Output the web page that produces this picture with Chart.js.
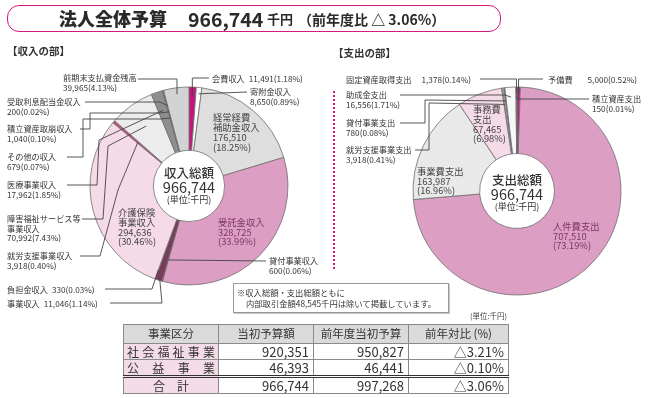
<!DOCTYPE html>
<html><head><meta charset="utf-8">
<script src="https://cdn.jsdelivr.net/npm/chart.js@4"></script>
<style>
body{margin:0;width:650px;height:398px;overflow:hidden;background:#fff;font-family:"Noto Sans CJK JP","Noto Sans",sans-serif;color:#333;position:relative}
canvas{position:absolute;left:0;top:0}
.t{position:absolute;white-space:nowrap;font-size:8.2px;color:#333;z-index:2}
.t.in{font-size:9.3px;color:#444}
.t.pu{color:#7d3467}
.abs{position:absolute;white-space:nowrap;z-index:2}
#titlebox{position:absolute;left:7px;top:5px;width:492px;height:25px;border:1.6px solid #d4197f;border-radius:12px}
.ctr{position:absolute;z-index:2;text-align:center;white-space:nowrap;color:#333;transform:translateX(-50%)}
#note{position:absolute;left:233px;top:283px;width:214px;height:28px;border:1px solid #999;box-shadow:1px 1px 0 #c8c8c8;font-size:8.3px;line-height:11px;color:#333;z-index:2}
table{position:absolute;left:123px;top:324px;border-collapse:collapse;color:#333;z-index:2;table-layout:fixed}
td,th{border:1px solid #8a8a8a;padding:0 4px;white-space:nowrap;line-height:1}
th{background:#dadada;font-weight:normal;font-size:11.5px;height:18px}
td{font-size:13px;text-align:right}
td.c1{background:#f3dbe7;font-size:12px;text-align:justify;text-align-last:justify;padding:0 3px}
td.c1.tot{text-align:center;text-align-last:center}
tr.tot td{border-top:3px double #333}
</style></head>
<body>
<div id="titlebox"></div>
<canvas id="inc" width="650" height="398"></canvas>
<canvas id="exp" width="650" height="398"></canvas>
<div class="abs" style="left:7px;top:43px;font-size:10.5px;font-weight:bold;line-height:16px">【収入の部】</div>
<div class="abs" style="left:333px;top:45px;font-size:10.5px;font-weight:bold;line-height:16px">【支出の部】</div>
<div style="position:absolute;left:333px;top:91px;height:178px;border-left:2px dotted #d4197f"></div>
<div id="note"><div style="position:absolute;left:3px;top:3px">※収入総額・支出総額ともに</div><div id="note2" style="position:absolute;left:12px;top:14px"></div></div>
<div class="abs" style="left:470px;top:311px;font-size:7.5px;line-height:10px;color:#444">(単位:千円)</div>
<table id="tbl"></table>
<script>
// ---- data ----
const incomeLabels = ['会費収入','寄附金収入','経常経費補助金収入','受託金収入','貸付事業収入','事業収入','負担金収入','介護保険事業収入','就労支援事業収入','障害福祉サービス等事業収入','医療事業収入','その他の収入','積立資産取崩収入','受取利息配当金収入','前期末支払資金残高'];
const incomeValues = [11491,8650,176510,328725,600,11046,330,294636,3918,70992,17962,679,1040,200,39965];
const incomePct = ['1.18%','0.89%','18.25%','33.99%','0.06%','1.14%','0.03%','30.46%','0.40%','7.43%','1.85%','0.07%','0.10%','0.02%','4.13%'];
const expenseLabels = ['予備費','人件費支出','事業費支出','事務費支出','就労支援事業支出','貸付事業支出','助成金支出','固定資産取得支出','積立資産支出'];
const expenseValues = [5000,707510,163987,67465,3918,780,16556,1378,150];
const expensePct = ['0.52%','73.19%','16.96%','6.98%','0.41%','0.08%','1.71%','0.14%','0.01%'];
const totalBudget = 966744;
const internalTx = 48545;
const tableHeaders = ['事業区分','当初予算額','前年度当初予算','前年対比 (%)'];
const tableCategories = ['社会福祉事業','公益事業','合計'];
const budgetCurrent = [920351,46393,966744];
const budgetPrevious = [950827,46441,997268];
const yoyChange = ['△3.21%','△0.10%','△3.06%'];

// ---- styles / layout ----
const incomeColors = ['#c8127c','#ffffff','#dedede','#dc9ec3','#7a3a5c','#7a3a5c','#5a2a44','#f5dae8','#c4507f','#ececec','#8e8e8e','#aaaaaa','#bbbbbb','#999999','#d3d3d3'];
const expenseColors = ['#c8127c','#dc9ec3','#e9e9e9','#f5dae8','#9a9a9a','#777777','#f7f7f7','#aaaaaa','#777777'];
const incomeLayout = [
 {x:212,cy:78,mode:'inline',gap:4,lh:10,lead:[[209,78],[null,78]],f:.85},
 {x:250,cy:92,mode:'two',lh:9.5,lead:[[247,92]],f:.9},
 {x:213,cy:117,mode:'stack',brk:4,lh:10,cls:'in'},
 {x:218,cy:223,mode:'stack',lh:9.6,cls:'in pu'},
 {x:269,cy:261,mode:'two',lh:9.5,lead:[[266,261]],f:.65},
 {x:7,cy:303,mode:'inline',gap:4,lh:10,lead:[[110,303],[162,303]],f:.95},
 {x:7,cy:289,mode:'inline',gap:4,lh:10,lead:[[105,289],[152,289]],f:.85},
 {x:118,cy:213,mode:'stack',brk:4,lh:9.7,cls:'in'},
 {x:7,cy:256,mode:'two',lh:9.8,lead:[[80,256],[100,256],[118,190]],f:.5},
 {x:7,cy:219,mode:'two',brk:9,lh:9.3,lead:[[82,219],[103,219],[108,146]],f:.6},
 {x:7,cy:185,mode:'two',lh:9.8,lead:[[67,185],[97,185],[99,140]],f:.7},
 {x:7,cy:157,mode:'two',lh:9.5,lead:[[67,157],[83,157],[83,119],[160,119]],f:.55},
 {x:7,cy:129,mode:'two',lh:9.8,lead:[[80,129],[90,129],[90,113],[160,113]],f:.65},
 {x:7,cy:102,mode:'two',lh:9.8,lead:[[85,102],[160,102]],f:.75},
 {x:63,cy:78,mode:'two',lh:9.3,lead:[[138,79],[null,79]],f:.9}
];
const expenseLayout = [
 {x:548,cy:79,mode:'inline',gap:15,lh:10,lead:[[543,79],[null,79]],f:.9},
 {x:553,cy:227,mode:'stack',lh:9.3,cls:'in pu'},
 {x:417,cy:172,mode:'stack',lh:9.3,cls:'in'},
 {x:473,cy:110,mode:'stack',brk:3,lh:9.7,cls:'in'},
 {x:346,cy:150,mode:'two',lh:9.5,lead:[[415,150],[429,150],[429,103]],f:.75},
 {x:346,cy:123,mode:'two',lh:9.8,lead:[[400,123],[425,123],[425,100]],f:.8},
 {x:346,cy:95,mode:'two',lh:9.8,lead:[[400,95],[505,95]],f:.85},
 {x:346,cy:79,mode:'inline',gap:10,lh:10,lead:[[480,79],[null,79]],f:.9},
 {x:592,cy:99,mode:'two',lh:9.8,lead:[[589,99],[null,99]],f:.88}
];
const incCenter = {x:189,y:186,r:99};
const expCenter = {x:517,y:191,r:104};

const fmt = v => v.toLocaleString('en-US');

function buildLabels(names, values, pcts, layout){
  layout.forEach((L,i)=>{
    const name = names[i], v = fmt(values[i]), p = pcts[i];
    const parts = L.brk ? [name.slice(0,L.brk), name.slice(L.brk)] : [name];
    let lines;
    if(L.mode==='inline') lines = [name + '<span style="margin-left:'+L.gap+'px">'+v+'('+p+')</span>'];
    else if(L.mode==='two') lines = parts.concat([v+'('+p+')']);
    else lines = parts.concat([v,'('+p+')']);
    const d = document.createElement('div');
    d.className = 't ' + (L.cls||'');
    d.style.left = L.x+'px';
    d.style.top = (L.cy - L.lh/2)+'px';
    d.style.lineHeight = L.lh+'px';
    d.innerHTML = lines.join('<br>');
    document.body.appendChild(d);
  });
}
function centerText(c, title, dy){
  const mk=(txt,y,fs,extra)=>{const d=document.createElement('div');d.className='ctr';d.style.left=c.x+'px';d.style.top=(y-fs*0.6)+'px';d.style.fontSize=fs+'px';d.style.lineHeight=(fs*1.2)+'px';if(extra)d.style.cssText+=extra;d.textContent=txt;document.body.appendChild(d);};
  mk(title,c.y-14+dy,12.5,'font-weight:500');
  mk(fmt(totalBudget),c.y+1+dy,14.5,'');
  mk('(単位:千円)',c.y+14+dy,9,'');
}
function makeLeaders(layout){
  return {id:'leaders',afterDatasetsDraw(chart){
    const ctx=chart.ctx, arcs=chart.getDatasetMeta(0).data;
    ctx.save();ctx.strokeStyle='#444';ctx.lineWidth=0.9;
    layout.forEach((L,i)=>{
      if(!L.lead) return;
      const a=arcs[i], mid=(a.startAngle+a.endAngle)/2;
      const r=a.innerRadius+L.f*(a.outerRadius-a.innerRadius);
      const ax=a.x+r*Math.cos(mid), ay=a.y+r*Math.sin(mid);
      ctx.beginPath();
      L.lead.forEach((p,k)=>{const x=p[0]==null?ax:p[0], y=p[1]==null?ay:p[1]; k?ctx.lineTo(x,y):ctx.moveTo(x,y);});
      ctx.lineTo(ax,ay);ctx.stroke();
    });
    ctx.restore();
  }};
}
function makeChart(id, labels, values, colors, c, layout){
  return new Chart(document.getElementById(id),{
    type:'doughnut',
    data:{labels:labels,datasets:[{data:values,backgroundColor:colors,borderColor:'#6e6e6e',borderWidth:0.8}]},
    options:{responsive:false,animation:false,cutout:'36%',radius:c.r,rotation:0,
      layout:{padding:{left:Math.max(0,2*c.x-650),right:Math.max(0,650-2*c.x),top:Math.max(0,2*c.y-398),bottom:Math.max(0,398-2*c.y)}},
      plugins:{legend:{display:false},tooltip:{enabled:false}},events:[]},
    plugins:[makeLeaders(layout)]
  });
}
makeChart('inc',incomeLabels,incomeValues,incomeColors,incCenter,incomeLayout);
makeChart('exp',expenseLabels,expenseValues,expenseColors,expCenter,expenseLayout);
buildLabels(incomeLabels,incomeValues,incomePct,incomeLayout);
buildLabels(expenseLabels,expenseValues,expensePct,expenseLayout);
centerText(incCenter,'収入総額',0);
centerText(expCenter,'支出総額',2);

// title
const yoyTotal = yoyChange[2].replace('△','△ ');
const title = [
 ['法人全体予算',59,18,'900'],[fmt(totalBudget),188,19.5,'bold'],['千円',267,13,'bold'],['（前年度比 '+yoyTotal+'）',298,14,'bold']
];
title.forEach(t=>{const d=document.createElement('div');d.className='abs';d.style.left=t[1]+'px';d.style.top=(19-t[2]*0.65)+'px';d.style.fontSize=t[2]+'px';d.style.lineHeight=(t[2]*1.3)+'px';d.style.fontWeight=t[3];d.style.color='#2a2a2a';d.textContent=t[0];document.body.appendChild(d);});

document.getElementById('note2').textContent='内部取引金額'+fmt(internalTx)+'千円は除いて掲載しています。';

// table
const tbl=document.getElementById('tbl');
const widths=[95,95,95,100];
let h='<colgroup>'+widths.map(w=>'<col style="width:'+w+'px">').join('')+'</colgroup>';
h+='<tr>'+tableHeaders.map(x=>'<th>'+x+'</th>').join('')+'</tr>';
const rowH=[16,17,17];
tableCategories.forEach((c,i)=>{
  const last=i===tableCategories.length-1;
  const label = last ? c.split('').join('　') : c;
  h+='<tr'+(last?' class="tot"':'')+' style="height:'+rowH[i]+'px"><td class="c1'+(last?' tot':'')+'">'+label+'</td><td>'+fmt(budgetCurrent[i])+'</td><td>'+fmt(budgetPrevious[i])+'</td><td>'+yoyChange[i]+'</td></tr>';
});
tbl.innerHTML=h;
</script>
</body></html>
